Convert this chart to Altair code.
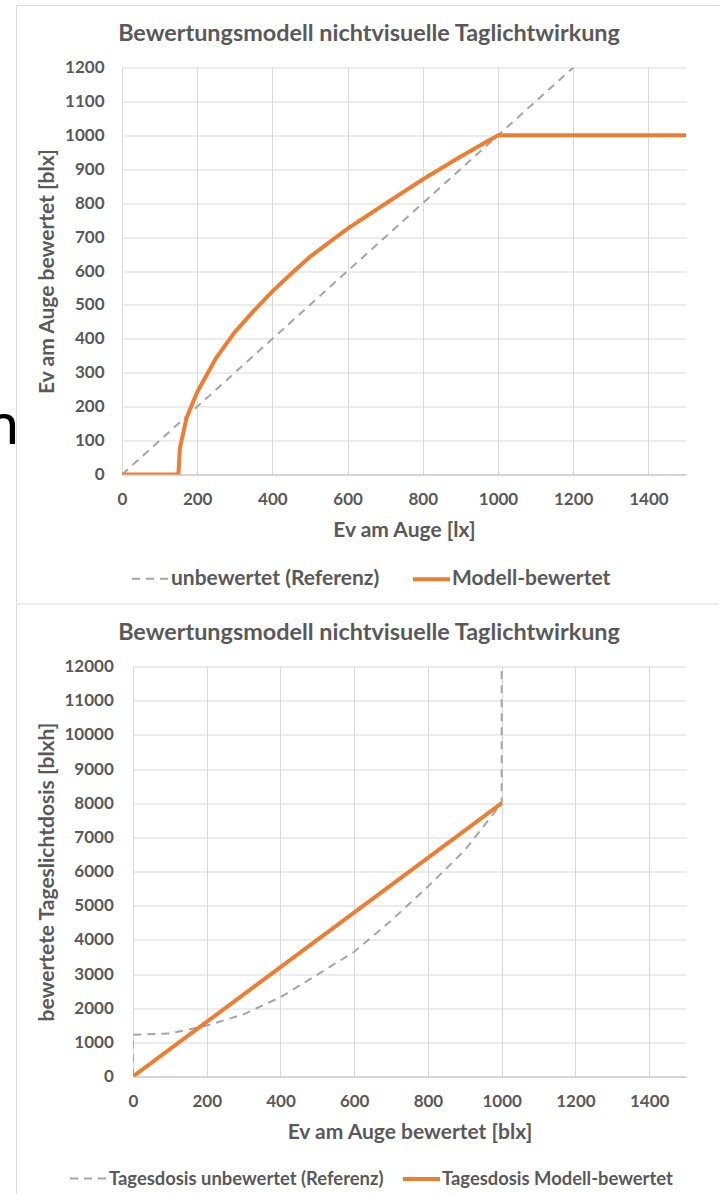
import altair as alt
import pandas as pd

# ---------------- data ----------------
TITLE = "Bewertungsmodell nichtvisuelle Taglichtwirkung"

# top chart
top_series = ["unbewertet (Referenz)", "Modell-bewertet"]
top_ref_x = [0, 1200]
top_ref_y = [0, 1200]
top_mod_x = [0, 150, 154, 172, 200, 250, 300, 350, 400, 450, 500, 600, 700, 800, 900, 1000, 1500]
top_mod_y = [0, 0, 78, 168, 243, 343, 420, 482, 540, 592, 642, 725, 798, 870, 937, 1000, 1000]
top_x_ticks = [0, 200, 400, 600, 800, 1000, 1200, 1400]
top_y_ticks = [0, 100, 200, 300, 400, 500, 600, 700, 800, 900, 1000, 1100, 1200]

# bottom chart
bot_series = ["Tagesdosis unbewertet (Referenz)", "Tagesdosis Modell-bewertet"]
bot_ref_x = [0, 0, 100, 200, 300, 400, 500, 600, 700, 800, 900, 1000, 1000]
bot_ref_y = [0, 1220, 1260, 1490, 1820, 2320, 2980, 3650, 4560, 5560, 6620, 8000, 12000]
bot_mod_x = [0, 1000]
bot_mod_y = [0, 8000]
bot_x_ticks = [0, 200, 400, 600, 800, 1000, 1200, 1400]
bot_y_ticks = [0, 1000, 2000, 3000, 4000, 5000, 6000, 7000, 8000, 9000, 10000, 11000, 12000]

stray_text = ["n"]

# ---------------- style ----------------
ORANGE = "#ED7D31"
GRAY = "#A5A5A5"
TXT = "#595959"
GRID = "#D9D9D9"
FONT = "Lato"
TICK_FS = 17
LAB_FS = 21
TITLE_FS = 23.4


def make_df(series, ref_x, ref_y, mod_x, mod_y):
    rows = []
    i = 0
    for x, y in zip(ref_x, ref_y):
        rows.append({"x": x, "y": y, "s": series[0], "i": i}); i += 1
    for x, y in zip(mod_x, mod_y):
        rows.append({"x": x, "y": y, "s": series[1], "i": i}); i += 1
    return pd.DataFrame(rows)


def panel(df, series, ydom, xticks, yticks, xtitle, ytitle, ox, oy, top_line,
          bottom_line, legend_x, legend_y, col_pad, leg_fs, ytitle_pad, ylabel_pad, w, h):
    # ox, oy: page position of the plot area, used only for the decorative frame/title
    leg = alt.Legend(
        title=None, orient="none", legendX=legend_x, legendY=legend_y,
        direction="horizontal", columns=2, columnPadding=col_pad,
        symbolType="stroke", symbolSize=1369, labelOffset=0, labelLimit=400,
        labelFont=FONT, labelFontSize=leg_fs, labelFontWeight="bold",
        labelColor=TXT, padding=0,
    )
    lines = alt.Chart(df).mark_line(strokeCap="butt", clip=True).encode(
        x=alt.X("x:Q", scale=alt.Scale(domain=[0, 1500], nice=False, zero=False),
                axis=alt.Axis(values=xticks, format="d", title=xtitle, labelPadding=16.5,
                              titlePadding=12, domain=True, domainColor="#BFBFBF")),
        y=alt.Y("y:Q", scale=alt.Scale(domain=ydom, nice=False, zero=False),
                axis=alt.Axis(values=yticks, format="d", title=ytitle, labelPadding=ylabel_pad,
                              titlePadding=ytitle_pad, domain=False)),
        color=alt.Color("s:N", scale=alt.Scale(domain=series, range=[GRAY, ORANGE]), legend=leg),
        strokeDash=alt.StrokeDash("s:N", scale=alt.Scale(domain=series, range=[[8, 6], [1, 0]]), legend=leg),
        strokeWidth=alt.StrokeWidth("s:N", scale=alt.Scale(domain=series, range=[2, 4]), legend=leg),
        order=alt.Order("i:Q"),
    )
    title = alt.Chart(alt.Data(values=[{"t": TITLE}])).mark_text(
        font=FONT, fontSize=TITLE_FS, fontWeight="bold", color=TXT, align="center", baseline="middle"
    ).encode(x=alt.value(369 - ox), y=alt.value(-34), text="t:N")
    vrule = alt.Chart(alt.Data(values=[{}])).mark_rule(color=GRID, strokeWidth=1).encode(
        x=alt.value(16.5 - ox), y=alt.value(top_line - oy), y2=alt.value(bottom_line - oy))
    hrule = alt.Chart(alt.Data(values=[{}])).mark_rule(color=GRID, strokeWidth=1).encode(
        y=alt.value(top_line - oy), x=alt.value(16.5 - ox), x2=alt.value(719 - ox))
    return alt.layer(vrule, hrule, lines, title).properties(width=w, height=h)


df_top = make_df(top_series, top_ref_x, top_ref_y, top_mod_x, top_mod_y)
df_bot = make_df(bot_series, bot_ref_x, bot_ref_y, bot_mod_x, bot_mod_y)

top = panel(df_top, top_series, [0, 1200], top_x_ticks, top_y_ticks,
            "Ev am Auge [lx]", "Ev am Auge bewertet [blx]", 122, 67, 5, 602,
            8, 491, 25, 21, 7, 18, 564, 407)

bot = panel(df_bot, bot_series, [0, 12000], bot_x_ticks, bot_y_ticks,
            "Ev am Auge bewertet [blx]", "bewertete Tageslichtdosis [blxh]", 133, 666, 603.5, 1193,
            -65, 492, 11, 18.4, 6, 19.7, 553, 410)

# partly hidden letter at the left edge (clipped to a narrow strip)
nchart = alt.Chart(alt.Data(values=[{"t": stray_text[0]}])).mark_text(
    font=FONT, fontSize=59, color="#000000", align="left", baseline="alphabetic", clip=True
).encode(x=alt.value(-14), y=alt.value(376), text="t:N").properties(width=15.5, height=400)

spacer = alt.Chart(alt.Data(values=[{}])).mark_point(opacity=0, clip=True).encode(
    x=alt.value(8), y=alt.value(5)).properties(width=15.5, height=10)

chart = alt.concat(nchart, top, spacer, bot, columns=2, spacing=0, align="none").resolve_scale(
    color="independent", strokeDash="independent", strokeWidth="independent"
).resolve_legend(
    color="independent", strokeDash="independent", strokeWidth="independent"
).properties(
    padding={"left": 0, "top": 4.5, "right": 0, "bottom": 0}, background="white"
).configure_view(stroke=None).configure_axis(
    labelFont=FONT, labelFontSize=TICK_FS, labelFontWeight="bold", labelColor=TXT,
    titleFont=FONT, titleFontSize=LAB_FS, titleFontWeight="bold", titleColor=TXT,
    gridColor=GRID, gridWidth=1, ticks=False, labelFlush=False,
)

chart.save("out.html", embed_options={"renderer": "svg", "actions": False})
